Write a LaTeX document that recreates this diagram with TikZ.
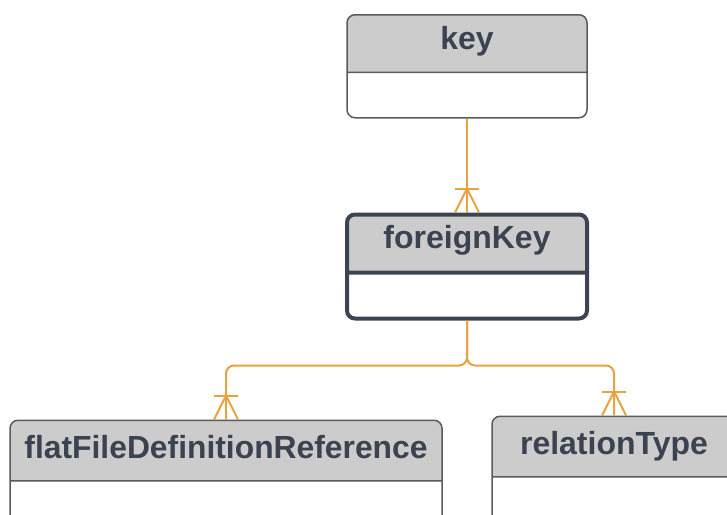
\documentclass[tikz,border=0pt]{standalone}
\usepackage{fontspec}
\setmainfont{Liberation Sans}
\usetikzlibrary{
  positioning,
  shapes.multipart
}
\definecolor{erHead}{HTML}{CCCCCC}
\definecolor{erText}{HTML}{3B4350}
\definecolor{erLine}{HTML}{5A5A5A}
\definecolor{erDark}{HTML}{3C4452}
\definecolor{erRel}{HTML}{E8A23F}
\tikzset{
  entity/.style={
    rectangle split, rectangle split parts=2,
    rectangle split part fill={erHead,white},
    draw=erLine, line width=0.75pt, rounded corners=4pt,
    inner ysep=0pt, inner xsep=0pt, minimum width=120pt,
    font=\fontsize{16}{19}\selectfont\bfseries, text=erText
  },
  focus/.style={draw=erDark, line width=2pt},
  rel/.style={draw=erRel, line width=1pt},
  crowfoot/.pic={
    \draw[rel] (-6pt,12pt) -- (6pt,12pt);
    \draw[rel] (-6pt,0pt) -- (0pt,12pt) -- (6pt,0pt);
  }
}
\newcommand{\headstrut}[1][28pt]{\rule[-11pt]{0pt}{#1}}
\newcommand{\bodystrut}[1][22pt]{\rule{0pt}{#1}}

\begin{document}
\begin{tikzpicture}[x=0.5pt, y=-0.5pt]
  \useasboundingbox (0,0) rectangle (727,514);
  \node[entity, anchor=north] (key) at (467,14) {\headstrut key\nodepart{two}\bodystrut};
  \node[entity, focus, below=47pt of key] (fk) {\headstrut[27pt]foreignKey\nodepart{two}\bodystrut[21pt]};
  \node[entity, minimum width=216pt, below=49.5pt of fk, xshift=-120.5pt] (ffdr) {\headstrut[29.5pt]\resizebox{201.5pt}{\height}{flatFileDefinitionReference}\nodepart{two}\bodystrut};
  \node[entity, minimum width=122pt, below=47.5pt of fk, xshift=73.5pt] (rt) {\headstrut[29.5pt]relationType\nodepart{two}\bodystrut};
  \draw[rel] (key) -- (fk);
  \pic at (fk.north) {crowfoot};
  \foreach \n in {ffdr,rt}{
    \draw[rel, rounded corners=4pt] (fk.south) -- ++(0,45) -| (\n.north);
    \pic at (\n.north) {crowfoot};
  }
\end{tikzpicture}
\end{document}
